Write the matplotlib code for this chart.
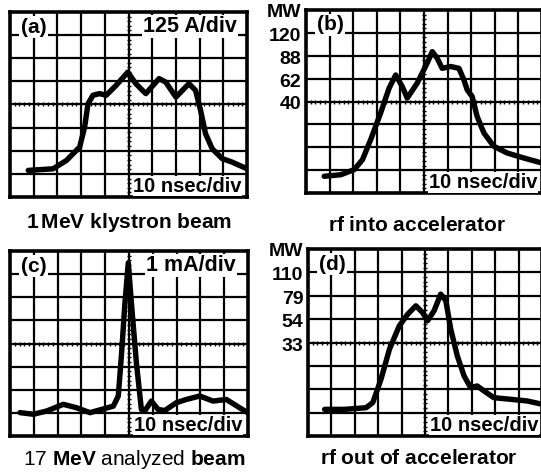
import numpy as np
import matplotlib
matplotlib.use("Agg")
import matplotlib.pyplot as plt

plt.rcParams["font.family"] = "Liberation Sans"
plt.rcParams["mathtext.fontset"] = "custom"
plt.rcParams["mathtext.rm"] = "Liberation Sans"
plt.rcParams["mathtext.bf"] = "Liberation Sans:bold"

# traces, in screen divisions (10 x 8 graticule)
a_x = [0.77, 1.82, 2.38, 2.94, 3.15, 3.29, 3.5, 3.78, 4.06, 4.48, 4.97, 5.31, 5.73,
       6.29, 6.57, 7.0, 7.55, 7.83, 8.04, 8.25, 8.53, 8.95, 9.37, 10.0]
a_y = [1.15, 1.22, 1.58, 2.16, 3.03, 4.03, 4.4, 4.47, 4.4, 4.83, 5.4, 4.9, 4.47,
       5.12, 4.97, 4.32, 4.9, 4.61, 3.75, 2.74, 2.09, 1.66, 1.51, 1.22]

b_x = [0.77, 1.48, 2.04, 2.39, 2.74, 3.16, 3.52, 3.8, 4.08, 4.29, 4.71, 5.13, 5.35,
       5.56, 5.77, 6.13, 6.48, 6.69, 6.83, 7.04, 7.25, 7.54, 7.96, 8.52, 9.23, 10.0]
b_y = [0.73, 0.8, 1.02, 1.45, 2.33, 3.49, 4.58, 5.16, 4.65, 4.15, 4.8, 5.67, 6.18,
       5.89, 5.45, 5.53, 5.45, 4.95, 4.51, 4.22, 3.35, 2.62, 2.04, 1.75, 1.53, 1.31]

c_x = [0.42, 0.98, 1.54, 2.24, 2.8, 3.36, 3.85, 4.34, 4.55, 4.69, 4.83, 4.97, 5.1,
       5.31, 5.52, 5.66, 5.94, 6.22, 6.5, 6.99, 7.41, 7.97, 8.53, 9.09, 9.65, 10.0]
c_y = [1.01, 0.94, 1.08, 1.37, 1.22, 1.01, 1.15, 1.29, 1.73, 3.6, 5.76, 7.49, 5.76,
       3.17, 1.15, 1.08, 1.51, 1.15, 1.1, 1.44, 1.58, 1.73, 1.51, 1.58, 1.22, 1.0]

d_x = [0.71, 1.56, 2.48, 2.77, 3.12, 3.48, 3.9, 4.26, 4.61, 4.89, 5.11, 5.39, 5.67,
       5.89, 6.1, 6.38, 6.67, 6.95, 7.23, 7.52, 7.94, 8.65, 9.36, 10.0]
d_y = [1.14, 1.14, 1.21, 1.43, 2.43, 3.71, 4.71, 5.21, 5.57, 5.29, 4.93, 5.36, 6.07,
       5.79, 4.57, 3.43, 2.57, 2.07, 2.14, 1.93, 1.64, 1.57, 1.5, 1.36]

b_scale = ["120", "88", "62", "40"]
d_scale = ["110", "79", "54", "33"]

fig = plt.figure(figsize=(5.41, 4.72), dpi=100)


def scope(rect, xs, ys, tag, vlabel):
    ax = fig.add_axes(rect)
    ax.set_xlim(0, 10)
    ax.set_ylim(0, 8)
    for i in range(1, 10):
        ax.axvline(i, color="black", lw=1.6, zorder=1)
    for j in range(1, 8):
        ax.axhline(j, color="black", lw=1.6, zorder=1)
    # small graduation ticks on the centre lines
    t = np.arange(0.2, 10, 0.2)
    ax.plot(t, np.full(len(t), 4.0), ls="none", marker="|", ms=3.5, mew=1, color="black", zorder=1)
    t = np.arange(0.2, 8, 0.2)
    ax.plot(np.full(len(t), 5.0), t, ls="none", marker="_", ms=3.5, mew=1, color="black", zorder=1)
    for s in ax.spines.values():
        s.set_linewidth(2.6)
    ax.set_xticks([])
    ax.set_yticks([])
    ax.plot(xs, ys, color="black", lw=3.9, solid_joinstyle="round", solid_capstyle="round", zorder=3)
    box = dict(facecolor="white", edgecolor="none", pad=1.0)
    ax.text(0.45, 7.35, tag, fontsize=15, fontweight="bold", ha="left", va="center", bbox=box, zorder=4)
    if vlabel:
        ax.text(7.6, 7.37, vlabel, fontsize=15.5, fontweight="bold", ha="center", va="center", bbox=box, zorder=4)
    ax.text(5.2, 0.46, "10 nsec/div", fontsize=14.5, fontweight="bold", ha="left", va="center",
            bbox=dict(facecolor="white", edgecolor="none", pad=0.5), zorder=4)
    return ax


ax_a = scope([10 / 541, 1 - 197 / 472, 237 / 541, 185 / 472], a_x, a_y, "(a)", "125 A/div")
ax_b = scope([306 / 541, 1 - 193 / 472, 236 / 541, 183 / 472], b_x, b_y, "(b)", None)
ax_c = scope([10 / 541, 1 - 436 / 472, 238 / 541, 185 / 472], c_x, c_y, "(c)", "1 mA/div")
ax_d = scope([308 / 541, 1 - 436 / 472, 234 / 541, 187 / 472], d_x, d_y, "(d)", None)

# MW scales left of (b) and (d)
for ax, labels in [(ax_b, b_scale), (ax_d, d_scale)]:
    ax.text(-0.2, 7.9, "MW", fontsize=14, fontweight="bold", ha="right", va="center", clip_on=False)
    for k, lab in enumerate(labels):
        ax.text(-0.2, 6.85 - k, lab, fontsize=14, fontweight="bold", ha="right", va="center", clip_on=False)

fig.text(129 / 541, 1 - 228 / 472, r"$\mathbf{1\,MeV}$ klystron beam", fontsize=15,
         fontweight="bold", ha="center", va="baseline")
fig.text(417 / 541, 1 - 231 / 472, r"$\mathbf{rf}$ into accelerator", fontsize=15,
         fontweight="bold", ha="center", va="baseline")
fig.text(134 / 541, 1 - 465 / 472, r"17 $\mathbf{MeV}$ analyzed $\mathbf{beam}$", fontsize=15,
         ha="center", va="baseline")
fig.text(419 / 541, 1 - 464 / 472, r"$\mathbf{rf}$ out of accelerator", fontsize=15,
         fontweight="bold", ha="center", va="baseline")

fig.savefig("out.png", dpi=100)
